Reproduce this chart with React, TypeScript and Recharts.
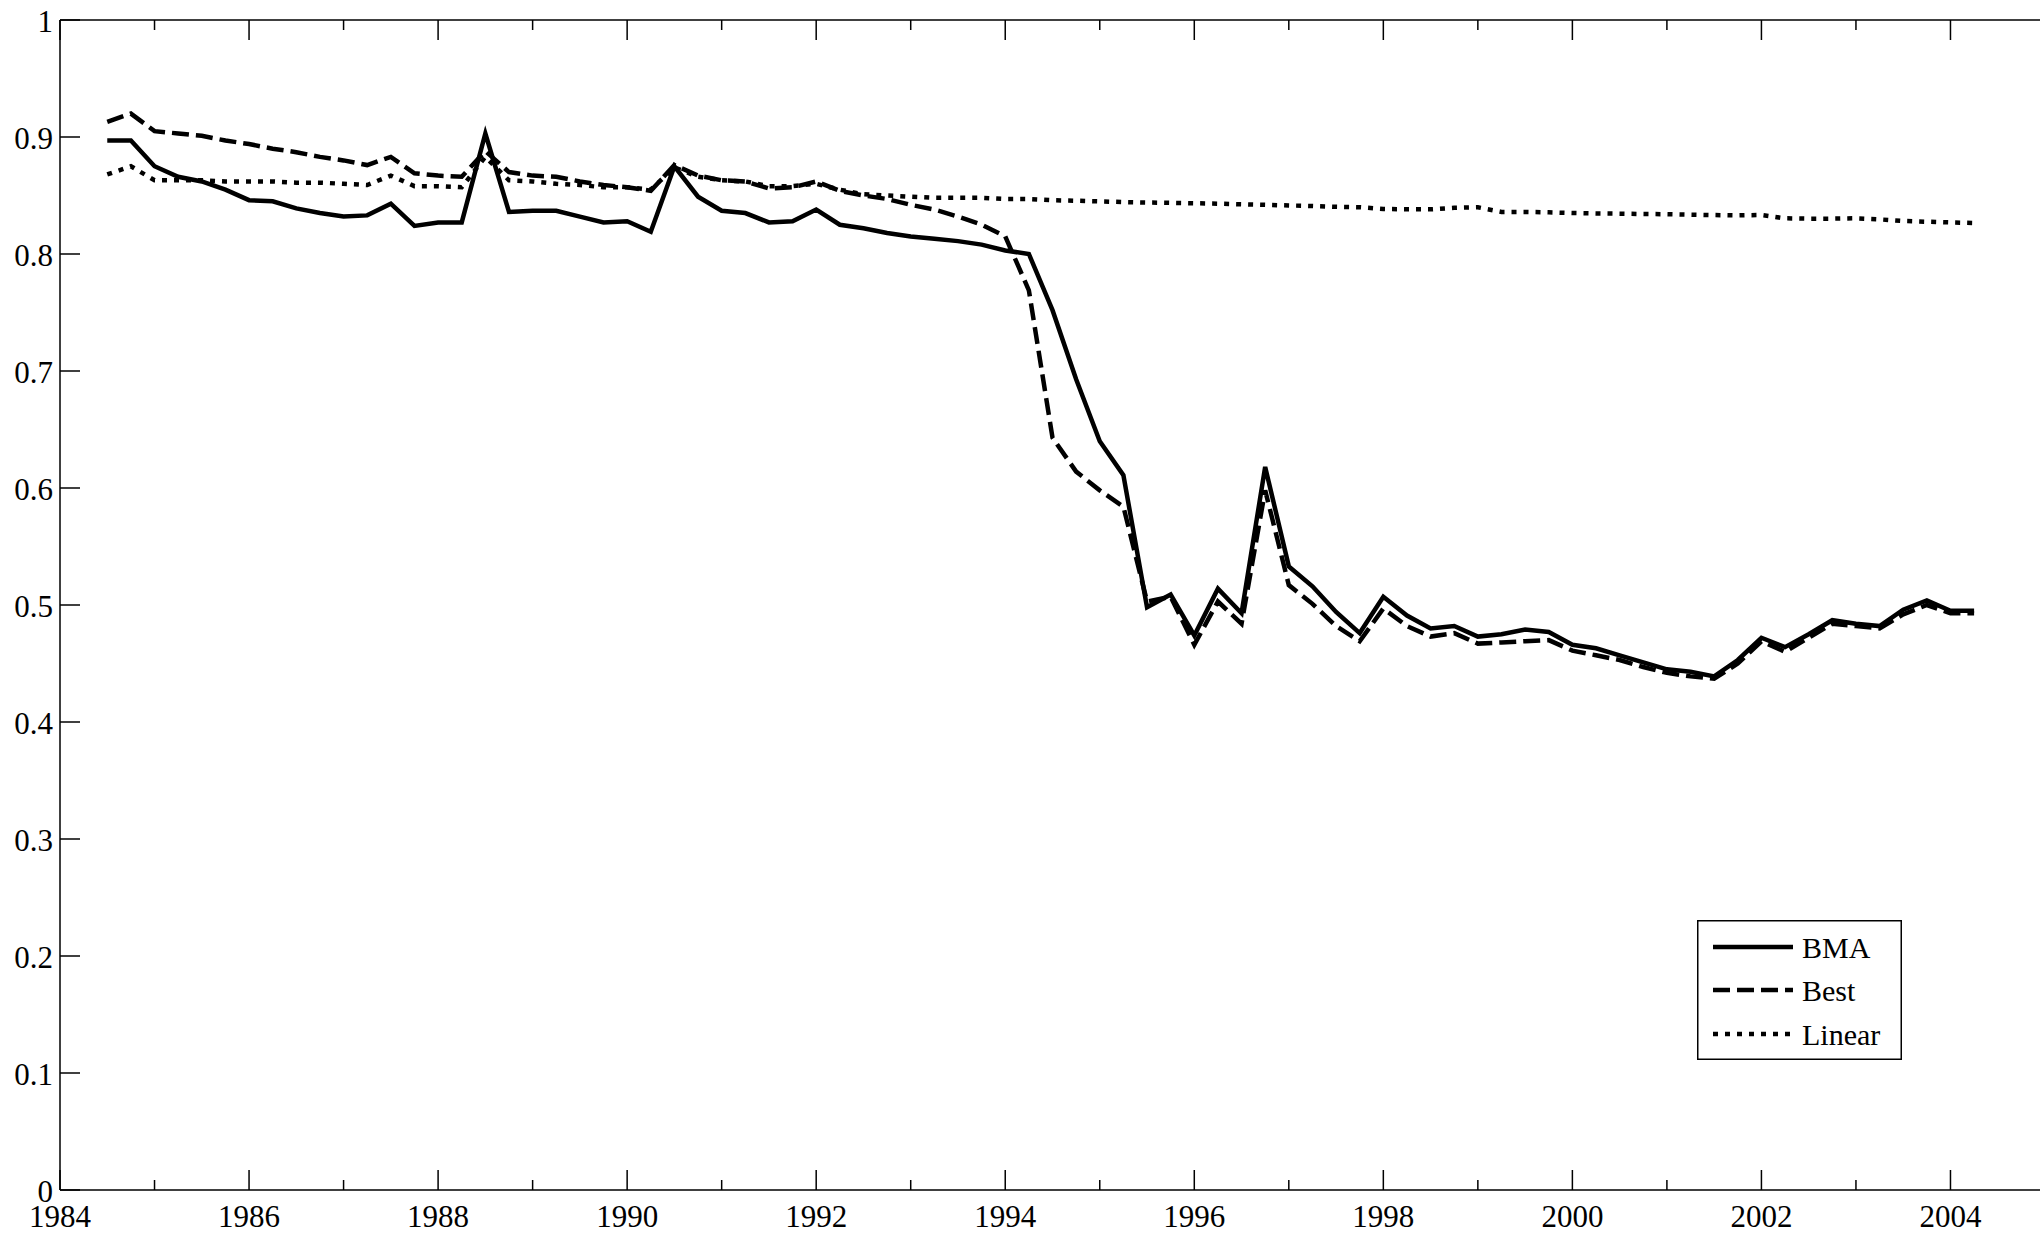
import React from 'react'
import { LineChart, Line, XAxis, YAxis, Legend } from 'recharts'

// quarterly observations, 1984 Q3 .. 2004 Q2
const quarters = [
  1984.5, 1984.75,
  1985, 1985.25, 1985.5, 1985.75,
  1986, 1986.25, 1986.5, 1986.75,
  1987, 1987.25, 1987.5, 1987.75,
  1988, 1988.25, 1988.5, 1988.75,
  1989, 1989.25, 1989.5, 1989.75,
  1990, 1990.25, 1990.5, 1990.75,
  1991, 1991.25, 1991.5, 1991.75,
  1992, 1992.25, 1992.5, 1992.75,
  1993, 1993.25, 1993.5, 1993.75,
  1994, 1994.25, 1994.5, 1994.75,
  1995, 1995.25, 1995.5, 1995.75,
  1996, 1996.25, 1996.5, 1996.75,
  1997, 1997.25, 1997.5, 1997.75,
  1998, 1998.25, 1998.5, 1998.75,
  1999, 1999.25, 1999.5, 1999.75,
  2000, 2000.25, 2000.5, 2000.75,
  2001, 2001.25, 2001.5, 2001.75,
  2002, 2002.25, 2002.5, 2002.75,
  2003, 2003.25, 2003.5, 2003.75,
  2004, 2004.25,
]

const bma = [
  0.897, 0.897,
  0.875, 0.866, 0.862, 0.855,
  0.846, 0.845, 0.839, 0.835,
  0.832, 0.833, 0.843, 0.824,
  0.827, 0.827, 0.903, 0.836,
  0.837, 0.837, 0.832, 0.827,
  0.828, 0.819, 0.875, 0.849,
  0.837, 0.835, 0.827, 0.828,
  0.838, 0.825, 0.822, 0.818,
  0.815, 0.813, 0.811, 0.808,
  0.803, 0.800, 0.752, 0.693,
  0.640, 0.611, 0.498, 0.509,
  0.474, 0.514, 0.493, 0.618,
  0.533, 0.516, 0.494, 0.476,
  0.507, 0.491, 0.480, 0.482,
  0.473, 0.475, 0.479, 0.477,
  0.466, 0.463, 0.457, 0.451,
  0.445, 0.443, 0.439, 0.453,
  0.472, 0.464, 0.475, 0.487,
  0.484, 0.482, 0.496, 0.504,
  0.495, 0.495,
]

const best = [
  0.913, 0.920,
  0.905, 0.903, 0.901, 0.897,
  0.894, 0.890, 0.887, 0.883,
  0.880, 0.876, 0.883, 0.869,
  0.867, 0.866, 0.888, 0.870,
  0.867, 0.866, 0.862, 0.859,
  0.857, 0.854, 0.876, 0.867,
  0.863, 0.862, 0.856, 0.857,
  0.862, 0.854, 0.850, 0.847,
  0.842, 0.838, 0.832, 0.825,
  0.815, 0.769, 0.643, 0.614,
  0.598, 0.584, 0.503, 0.507,
  0.466, 0.503, 0.484, 0.598,
  0.517, 0.501, 0.482, 0.469,
  0.497, 0.482, 0.473, 0.476,
  0.467, 0.468, 0.469, 0.470,
  0.461, 0.457, 0.453, 0.447,
  0.442, 0.439, 0.437, 0.450,
  0.469, 0.460, 0.472, 0.484,
  0.482, 0.480, 0.492, 0.500,
  0.493, 0.493,
]

const linear = [
  0.868, 0.875,
  0.863, 0.863, 0.863, 0.862,
  0.862, 0.862, 0.861, 0.861,
  0.860, 0.859, 0.867, 0.858,
  0.858, 0.857, 0.883, 0.863,
  0.862, 0.860, 0.859, 0.857,
  0.857, 0.855, 0.874, 0.866,
  0.863, 0.862, 0.858, 0.858,
  0.860, 0.855, 0.851, 0.850,
  0.849, 0.848, 0.848, 0.848,
  0.847, 0.847, 0.846, 0.8455,
  0.845, 0.8444, 0.844, 0.8437,
  0.8434, 0.843, 0.8425, 0.842,
  0.8415, 0.841, 0.8403, 0.840,
  0.8385, 0.8382, 0.8382, 0.8395,
  0.8399, 0.836, 0.836, 0.8356,
  0.835, 0.8347, 0.8345, 0.8342,
  0.834, 0.8336, 0.8333, 0.833,
  0.8333, 0.8305, 0.8302, 0.8302,
  0.8305, 0.8296, 0.8282, 0.8276,
  0.827, 0.8265,
]

const yearTicks = [
  1984, 1985, 1986, 1987, 1988, 1989, 1990, 1991, 1992, 1993, 1994,
  1995, 1996, 1997, 1998, 1999, 2000, 2001, 2002, 2003, 2004,
]
const valueTicks = [0, 0.1, 0.2, 0.3, 0.4, 0.5, 0.6, 0.7, 0.8, 0.9, 1]

const series = [
  { key: 'bma', name: 'BMA', dash: undefined as string | undefined },
  { key: 'best', name: 'Best', dash: '17 7' },
  { key: 'linear', name: 'Linear', dash: '5 7' },
]

const data = quarters.map((t, i) => ({ t, bma: bma[i], best: best[i], linear: linear[i] }))

const FONT = '"Liberation Serif", "Times New Roman", serif'
const INK = '#000'
const LINE_W = 4.5

const BottomTick = (props: any) => {
  const { x, y, payload } = props
  const major = payload.value % 2 === 0
  return (
    <g>
      <line x1={x} y1={y} x2={x} y2={y - (major ? 20 : 10)} stroke={INK} strokeWidth={1.5} />
      {major && (
        <text x={x} y={y + 37} textAnchor="middle" fontSize={31} fontFamily={FONT} fill={INK}>
          {payload.value}
        </text>
      )}
    </g>
  )
}

const TopTick = (props: any) => {
  const { x, y, payload } = props
  const major = payload.value % 2 === 0
  return <line x1={x} y1={y} x2={x} y2={y + (major ? 20 : 10)} stroke={INK} strokeWidth={1.5} />
}

const LeftTick = (props: any) => {
  const { x, y, payload } = props
  return (
    <g>
      <line x1={x} y1={y} x2={x + 20} y2={y} stroke={INK} strokeWidth={1.5} />
      <text x={x - 7} y={y + 12} textAnchor="end" fontSize={31} fontFamily={FONT} fill={INK}>
        {String(payload.value)}
      </text>
    </g>
  )
}

const RightTick = (props: any) => {
  const { x, y } = props
  return <line x1={x} y1={y} x2={x - 20} y2={y} stroke={INK} strokeWidth={1.5} />
}

const LegendBox = () => (
  <svg width={205} height={140} style={{ display: 'block' }}>
    <rect x={0.75} y={0.75} width={203.5} height={138.5} fill="#fff" stroke={INK} strokeWidth={1.5} />
    {series.map((s, i) => {
      const cy = [27, 70, 114][i]
      return (
        <g key={s.key}>
          <line x1={16} y1={cy} x2={96} y2={cy} stroke={INK} strokeWidth={LINE_W} strokeDasharray={s.dash} />
          <text x={105} y={cy + 11} fontSize={30} fontFamily={FONT} fill={INK}>
            {s.name}
          </text>
        </g>
      )
    })}
  </svg>
)

export default function App() {
  return (
    <div style={{ position: 'absolute', left: 0, top: 0, width: 2040, height: 1236, overflow: 'hidden', background: '#fff' }}>
      <LineChart width={2046} height={1236} data={data} margin={{ top: 0, right: 0, bottom: 0, left: 0 }}>
        <XAxis
          dataKey="t"
          type="number"
          domain={[1984, 2005]}
          ticks={yearTicks}
          interval={0}
          height={46}
          tickSize={0}
          tickMargin={0}
          tickLine={false}
          axisLine={{ stroke: INK, strokeWidth: 1.5 }}
          tick={<BottomTick />}
          allowDataOverflow
        />
        <XAxis
          xAxisId="top"
          orientation="top"
          dataKey="t"
          type="number"
          domain={[1984, 2005]}
          ticks={yearTicks}
          interval={0}
          height={20}
          tickSize={0}
          tickMargin={0}
          tickLine={false}
          axisLine={{ stroke: INK, strokeWidth: 1.5 }}
          tick={<TopTick />}
          allowDataOverflow
        />
        <YAxis
          domain={[0, 1]}
          ticks={valueTicks}
          interval={0}
          width={60}
          tickSize={0}
          tickMargin={0}
          tickLine={false}
          axisLine={{ stroke: INK, strokeWidth: 1.5 }}
          tick={<LeftTick />}
        />
        <YAxis
          yAxisId="r"
          orientation="right"
          domain={[0, 1]}
          ticks={valueTicks}
          interval={0}
          width={1}
          tickSize={0}
          tickMargin={0}
          tickLine={false}
          axisLine={{ stroke: INK, strokeWidth: 1.5 }}
          tick={<RightTick />}
        />
        <Legend
          layout="vertical"
          align="center"
          verticalAlign="middle"
          content={<LegendBox />}
          wrapperStyle={{ left: 1697, top: 920, width: 205, height: 140 }}
        />
        {series.map((s) => (
          <Line
            key={s.key}
            type="linear"
            dataKey={s.key}
            name={s.name}
            stroke={INK}
            strokeWidth={LINE_W}
            strokeDasharray={s.dash}
            dot={false}
            activeDot={false}
            isAnimationActive={false}
          />
        ))}
      </LineChart>
    </div>
  )
}
